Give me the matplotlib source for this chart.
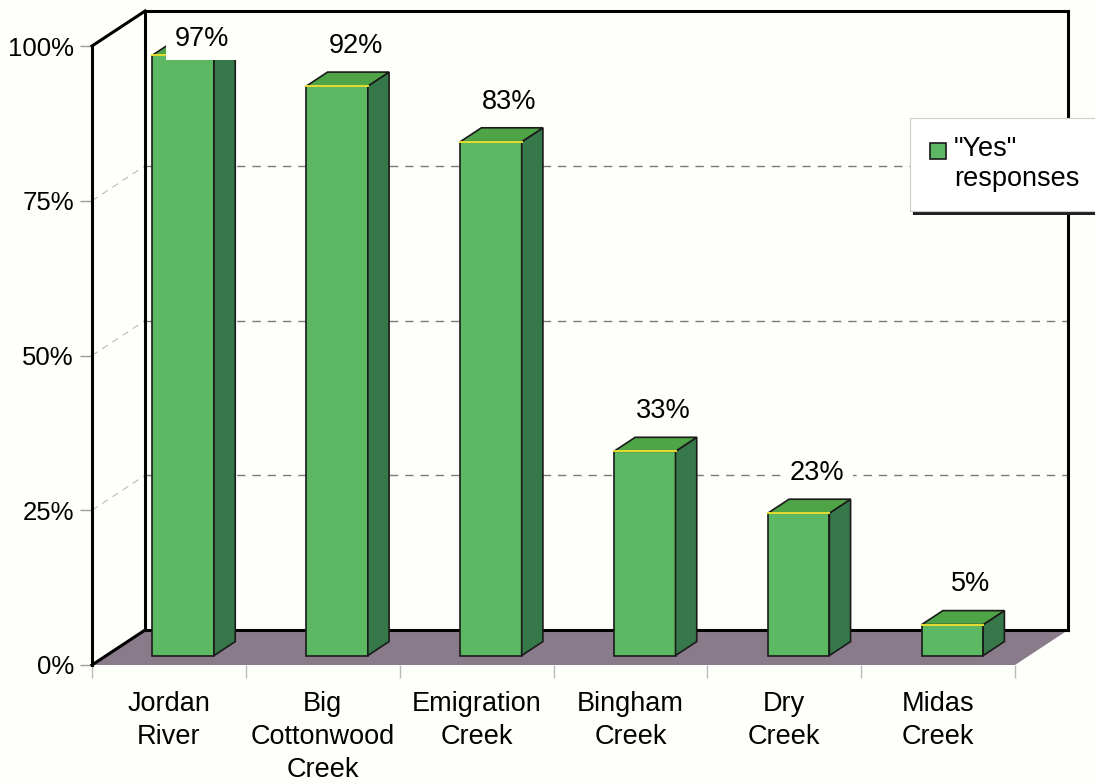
import matplotlib
matplotlib.use("Agg")
import matplotlib.pyplot as plt
from matplotlib.patches import Polygon, Rectangle
from matplotlib.lines import Line2D

categories = ["Jordan\nRiver", "Big\nCottonwood\nCreek", "Emigration\nCreek",
              "Bingham\nCreek", "Dry\nCreek", "Midas\nCreek"]
values = [97, 92, 83, 33, 23, 5]
value_labels = ["97%", "92%", "83%", "33%", "23%", "5%"]
yticks = [0, 25, 50, 75, 100]
ytick_labels = ["0%", "25%", "50%", "75%", "100%"]
legend_label = '"Yes"\nresponses'

plt.rcParams['font.family'] = ['Liberation Sans', 'DejaVu Sans']

W, H = 1095, 783
fig = plt.figure(figsize=(W / 100, H / 100), dpi=100)
bg = '#fefefa'
fig.patch.set_facecolor(bg)

ax = fig.add_axes([92 / W, (H - 665) / H, 923 / W, 619 / H])
ax.set_facecolor('none')
n = len(categories)
ax.set_xlim(0, n)
ax.set_ylim(0, 100)

# depth of the pseudo-3D box (in data units)
DX, DY = 0.345, 5.65
f0, f1 = 0.27, 0.67   # bar front/back depth fractions
bw = 0.40

front_c = '#5cb862'
side_c = '#36784a'
top_c = '#4fa447'
floor_c = '#8a7b8a'

# floor
ax.add_patch(Polygon([(0, 0), (n, 0), (n + DX, DY), (DX, DY)], closed=True,
                     facecolor=floor_c, edgecolor='none', zorder=1, clip_on=False))
# gridlines on back wall and left wall
for v in yticks[1:-1]:
    ax.add_line(Line2D([DX, n + DX], [v + DY, v + DY], color='#7a7a7a', lw=1.0,
                       ls=(0, (6, 5)), zorder=1, clip_on=False))
    ax.add_line(Line2D([0, DX], [v, v + DY], color='#bbbbbb', lw=0.8,
                       ls=(0, (6, 5)), zorder=1, clip_on=False))
# frame lines
frame_kw = dict(color='black', lw=2.2, zorder=2, clip_on=False, solid_capstyle='projecting')
ax.add_line(Line2D([0, DX], [100, 100 + DY], **frame_kw))
ax.add_line(Line2D([0, DX], [0, DY], **frame_kw))
ax.add_line(Line2D([DX, DX], [DY, 100 + DY], **frame_kw))
ax.add_line(Line2D([DX, n + DX], [100 + DY, 100 + DY], **frame_kw))
ax.add_line(Line2D([n + DX, n + DX], [DY, 100 + DY], **frame_kw))
ax.add_line(Line2D([DX, n + DX], [DY, DY], **frame_kw))
ax.add_line(Line2D([0, 0], [0, 100], **frame_kw))

# bars
xs = [i + 0.5 + f0 * DX for i in range(n)]
base = f0 * DY
ddx, ddy = (f1 - f0) * DX, (f1 - f0) * DY
bars = ax.bar(xs, values, width=bw, bottom=base, color=front_c, edgecolor='#1a1a1a',
              linewidth=1.2, zorder=3, clip_on=False)
for x, v in zip(xs, values):
    x0, x1 = x - bw / 2, x + bw / 2
    top = base + v
    ax.add_patch(Polygon([(x1, base), (x1 + ddx, base + ddy), (x1 + ddx, top + ddy), (x1, top)],
                         closed=True, facecolor=side_c, edgecolor='#1a1a1a', lw=1.2,
                         zorder=3, clip_on=False))
    ax.add_patch(Polygon([(x0, top), (x1, top), (x1 + ddx, top + ddy), (x0 + ddx, top + ddy)],
                         closed=True, facecolor=top_c, edgecolor='#1a1a1a', lw=1.2,
                         zorder=3, clip_on=False))
    ax.add_line(Line2D([x0, x1], [top, top], color='#e8e030', lw=1.4, zorder=4, clip_on=False))

# value labels
for x, v, lab in zip(xs, values, value_labels):
    ytxt = min(base + v + ddy + 3.1, 100)
    ax.text(x + 0.12, ytxt, lab, ha='center', va='baseline', fontsize=19.5, zorder=6,
            bbox=dict(facecolor=bg, edgecolor='none', pad=6), clip_on=False)

# axes styling
for s in ax.spines.values():
    s.set_visible(False)
ax.set_yticks(yticks)
ax.set_yticklabels(ytick_labels, fontsize=18.5)
ax.tick_params(axis='y', length=9, width=1, color='#999999', pad=4)
ax.set_xticks(range(n + 1))
ax.set_xticklabels([])
ax.tick_params(axis='x', which='major', length=9, width=1, color='#bbbbbb')
ax.set_xticks([i + 0.5 for i in range(n)], minor=True)
ax.set_xticklabels(categories, minor=True, fontsize=19.5, linespacing=1.33)
ax.tick_params(axis='x', which='minor', length=0, pad=19)

# legend (drawn manually in pixel coordinates of figure)
def px(x, y):
    return (x / W, 1 - y / H)
lx0, ly0, lx1, ly1 = 910, 118, 1100, 211
fig.patches.append(Rectangle(px(lx0 + 3, ly1 + 4), (lx1 - lx0) / W, (ly1 - ly0) / H,
                             transform=fig.transFigure, facecolor='#222222', edgecolor='none', zorder=5))
fig.patches.append(Rectangle(px(lx0, ly1), (lx1 - lx0) / W, (ly1 - ly0) / H,
                             transform=fig.transFigure, facecolor='white', edgecolor='#cccccc',
                             lw=0.8, zorder=6))
fig.patches.append(Rectangle(px(930, 159), 16 / W, 16 / H, transform=fig.transFigure,
                             facecolor=front_c, edgecolor='#1a1a1a', lw=1.2, zorder=7))
fig.text(*px(954, 136), legend_label, ha='left', va='top', fontsize=19.5,
         linespacing=1.2, zorder=8)

fig.savefig('out.png', dpi=100, facecolor=bg)
